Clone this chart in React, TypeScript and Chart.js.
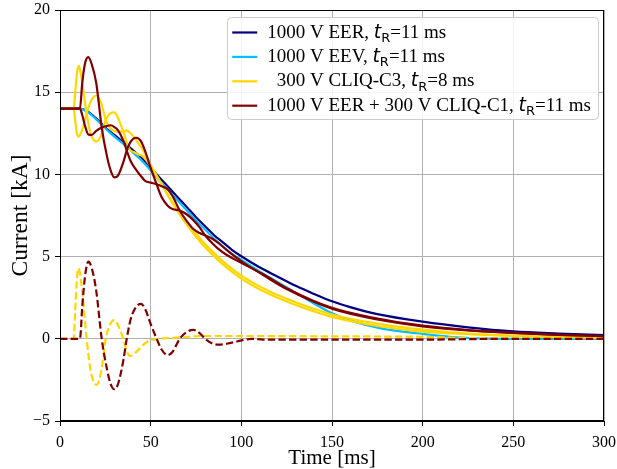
import React, { useEffect, useRef } from 'react';
import { Chart, registerables } from 'chart.js';

Chart.register(...registerables);

// ---------- data ----------
const X_TICKS = [0, 50, 100, 150, 200, 250, 300];
const Y_TICKS = [-5, 0, 5, 10, 15, 20];

// 1000 V EER
const tEER = [0, 11, 15, 20, 25, 30, 35, 40, 45, 50, 55, 60, 65, 70, 75, 80, 85, 90, 95, 100, 110, 120, 130, 140, 150, 160, 175, 200, 225, 250, 275, 300];
const iEER = [14.0, 14.0, 13.85, 13.4, 12.85, 12.4, 11.95, 11.5, 11.0, 10.4, 9.8, 9.2, 8.6, 8.0, 7.4, 6.85, 6.3, 5.85, 5.4, 5.02, 4.35, 3.78, 3.22, 2.73, 2.28, 1.93, 1.5, 1.04, 0.7, 0.45, 0.32, 0.22];

// 1000 V EEV
const tEEV = [0, 11, 15, 20, 25, 30, 35, 40, 45, 50, 55, 60, 65, 70, 75, 80, 85, 90, 95, 100, 110, 120, 130, 140, 150, 160, 175, 190, 200, 215, 230, 250, 275, 300];
const iEEV = [14.0, 14.0, 13.8, 13.35, 12.8, 12.3, 11.85, 11.35, 10.85, 10.25, 9.6, 9.0, 8.4, 7.8, 7.2, 6.65, 6.1, 5.6, 5.15, 4.8, 4.1, 3.45, 2.8, 2.15, 1.55, 1.12, 0.68, 0.42, 0.3, 0.12, 0.03, 0.0, 0.0, 0.0];

// 300 V CLIQ-C3 (two apertures + difference)
const tCLIQ = [0, 7.5, 8.5, 9.3, 10.1, 11, 12.5, 14.7, 17, 20.2, 23, 25.2, 27.5, 30, 32.5, 34.9, 36.8, 38.6, 41, 43.2, 46, 49.6, 55, 60, 67, 78, 90, 100, 110, 125, 150, 175, 200, 225, 250, 275, 300];
const iCLIQa = [14.0, 14.0, 15.15, 16.1, 16.6, 16.4, 15.4, 13.7, 12.45, 12.0, 12.45, 13.3, 13.7, 13.77, 13.3, 12.6, 11.93, 11.48, 11.35, 11.21, 11.08, 10.55, 9.6, 8.68, 7.5, 5.99, 4.69, 3.84, 3.19, 2.43, 1.48, 0.92, 0.56, 0.32, 0.19, 0.11, 0.07];
const iCLIQb = [14.0, 14.0, 13.15, 12.5, 12.3, 12.4, 12.8, 13.7, 14.45, 14.8, 14.25, 13.3, 12.85, 12.63, 12.6, 12.6, 12.68, 12.53, 12.25, 11.89, 11.43, 10.65, 9.6, 8.63, 7.4, 5.81, 4.51, 3.66, 3.01, 2.27, 1.33, 0.78, 0.44, 0.28, 0.17, 0.11, 0.07];
const dCLIQ = [0, 0, 2.0, 3.6, 4.29, 4.0, 2.6, 0, -2.0, -2.8, -1.8, 0, 0.85, 1.14, 0.7, 0, -0.75, -1.05, -0.9, -0.68, -0.35, -0.1, 0.0, 0.05, 0.09, 0.17, 0.17, 0.17, 0.17, 0.16, 0.15, 0.14, 0.12, 0.04, 0.01, 0, 0];

// 1000 V EER + 300 V CLIQ-C1 (two apertures + difference)
const tComb = [0, 11, 12.3, 13.8, 15.6, 17.5, 20, 23, 26, 28, 30, 32, 35, 36.8, 39, 42, 44.7, 47, 50, 53.3, 56, 59.4, 62, 66, 70, 73.5, 77, 80, 84, 87.3, 92, 98, 105.7, 112, 125, 150, 175, 200, 225, 250, 275, 300];
const iCombA = [14.0, 14.0, 15.6, 16.75, 17.13, 16.7, 15.55, 12.85, 11.05, 10.22, 9.82, 9.93, 10.77, 11.45, 12.0, 12.23, 12.01, 11.4, 10.4, 9.4, 8.63, 8.1, 7.9, 7.8, 7.56, 7.22, 6.78, 6.3, 5.81, 5.47, 5.1, 4.73, 4.3, 3.88, 3.03, 1.83, 1.18, 0.76, 0.51, 0.36, 0.24, 0.16];
const iCombB = [14.0, 14.0, 13.6, 12.95, 12.43, 12.4, 12.65, 12.85, 12.95, 12.99, 12.88, 12.68, 12.04, 11.45, 10.8, 10.28, 9.89, 9.6, 9.5, 9.4, 9.28, 9.1, 8.7, 7.8, 7.14, 6.68, 6.43, 6.3, 6.09, 5.83, 5.4, 4.88, 4.3, 3.93, 3.08, 1.88, 1.23, 0.8, 0.53, 0.36, 0.24, 0.16];
const dComb = [0, 0, 2.0, 3.8, 4.69, 4.3, 2.9, 0, -1.9, -2.77, -3.07, -2.75, -1.27, 0, 1.2, 1.95, 2.12, 1.8, 0.9, 0, -0.65, -0.99, -0.8, 0, 0.42, 0.54, 0.35, 0, -0.28, -0.36, -0.3, -0.15, 0, -0.05, -0.05, -0.05, -0.05, -0.05, -0.02, 0, 0, 0];

const LEGEND_PRE = ['1000 V EER, ', '1000 V EEV, ', '  300 V CLIQ-C3, ', '1000 V EER + 300 V CLIQ-C1, '];
const LEGEND_SYM = 't';
const LEGEND_SUB = 'R';
const LEGEND_POST = ['=11 ms', '=11 ms', '=8 ms', '=11 ms'];

// ---------- styles ----------
const NAVY = '#000080';
const SKY = '#00BFFF';
const GOLD = '#FFD700';
const MAROON = '#800000';
const LEGEND_COLORS = [NAVY, SKY, GOLD, MAROON];
const SERIF = '"Liberation Serif", "Times New Roman", serif';
const LW = 2.2;

function pts(t: number[], v: number[]) {
  return t.map((x, i) => ({ x, y: v[i] }));
}

const framePlugin = {
  id: 'frame',
  afterDatasetsDraw(chart: any) {
    const { ctx, chartArea } = chart;
    ctx.save();
    ctx.strokeStyle = '#000';
    ctx.lineWidth = 1;
    const l = Math.round(chartArea.left) + 0.5;
    const r = Math.round(chartArea.right) - 0.5;
    const t = Math.round(chartArea.top) + 0.5;
    const b = Math.round(chartArea.bottom) - 0.5;
    ctx.strokeRect(l, t, r - l, b - t);
    ctx.restore();
  },
};

const legendPlugin = {
  id: 'mplLegend',
  afterDraw(chart: any) {
    const { ctx, chartArea } = chart;
    ctx.save();
    const serif = '19px ' + SERIF;
    const ital = 'oblique 19px "DejaVu Sans"';
    const sub = '13px "DejaVu Sans"';
    const widths = LEGEND_PRE.map((pre, i) => {
      ctx.font = serif;
      let w = ctx.measureText(pre).width + ctx.measureText(LEGEND_POST[i]).width;
      ctx.font = ital;
      w += ctx.measureText(LEGEND_SYM).width;
      ctx.font = sub;
      w += ctx.measureText(LEGEND_SUB).width;
      return w;
    });
    const textW = Math.max(...widths);
    const right = chartArea.right - 6;
    const w = 40 + textW + 7;
    const x0 = right - w;
    const y0 = chartArea.top + 7;
    const h = 102;
    ctx.beginPath();
    ctx.roundRect(Math.round(x0) + 0.5, Math.round(y0) + 0.5, Math.round(w), h, 4);
    ctx.fillStyle = 'rgba(255,255,255,0.85)';
    ctx.fill();
    ctx.strokeStyle = '#cccccc';
    ctx.lineWidth = 1;
    ctx.stroke();
    LEGEND_PRE.forEach((pre, i) => {
      const base = y0 + 20.5 + i * 24.4;
      const mid = base - 5;
      ctx.strokeStyle = LEGEND_COLORS[i];
      ctx.lineWidth = LW;
      ctx.beginPath();
      ctx.moveTo(x0 + 5, mid);
      ctx.lineTo(x0 + 30, mid);
      ctx.stroke();
      let x = x0 + 40;
      ctx.fillStyle = '#000';
      ctx.textBaseline = 'alphabetic';
      ctx.textAlign = 'left';
      ctx.font = serif;
      ctx.fillText(pre, x, base);
      x += ctx.measureText(pre).width;
      ctx.font = ital;
      ctx.fillText(LEGEND_SYM, x, base);
      x += ctx.measureText(LEGEND_SYM).width;
      ctx.font = sub;
      ctx.fillText(LEGEND_SUB, x, base + 4.5);
      x += ctx.measureText(LEGEND_SUB).width;
      ctx.font = serif;
      ctx.fillText(LEGEND_POST[i], x, base);
    });
    ctx.restore();
  },
};

export default function App() {
  const ref = useRef<HTMLCanvasElement>(null);
  useEffect(() => {
    const canvas = ref.current;
    if (!canvas) return;
    const base = (data: any, color: string, order: number, dashed = false) => ({
      data,
      borderColor: color,
      backgroundColor: color,
      borderWidth: LW,
      borderDash: dashed ? [7.4, 3.2] : [],
      pointRadius: 0,
      fill: false,
      cubicInterpolationMode: 'monotone',
      order,
    });
    const datasets = [
      base(pts(tEER, iEER), NAVY, 9),
      base(pts(tEEV, iEEV), SKY, 8),
      base(pts(tCLIQ, iCLIQa), GOLD, 7),
      base(pts(tCLIQ, iCLIQb), GOLD, 6),
      base(pts(tCLIQ, dCLIQ), GOLD, 5, true),
      base(pts(tComb, iCombA), MAROON, 4),
      base(pts(tComb, iCombB), MAROON, 3),
      base(pts(tComb, dComb), MAROON, 2, true),
    ];
    const chart = new Chart(canvas, {
      type: 'line',
      data: { datasets: datasets as any },
      options: {
        animation: false,
        responsive: false,
        maintainAspectRatio: false,
        events: [],
        layout: { padding: { left: 0, right: 13, top: 10, bottom: 0 } },
        plugins: { legend: { display: false }, tooltip: { enabled: false } },
        scales: {
          x: {
            type: 'linear',
            min: 0,
            max: 300,
            afterFit: (s: any) => { s.height = 48; s.paddingLeft = 0; s.paddingRight = 0; },
            afterBuildTicks: (s: any) => { s.ticks = X_TICKS.map((v) => ({ value: v })); },
            ticks: { color: '#000', font: { family: SERIF, size: 16 }, padding: 7, maxRotation: 0, autoSkip: false },
            grid: { color: '#b0b0b0', lineWidth: 1, tickColor: '#000', tickLength: 5 },
            border: { color: '#000', width: 1 },
            title: { display: true, text: 'Time [ms]', color: '#000', font: { family: SERIF, size: 21, lineHeight: 1.0 }, padding: { top: 0, bottom: 0 } },
          },
          y: {
            type: 'linear',
            min: -5,
            max: 20,
            afterFit: (s: any) => { s.width = 60; s.paddingTop = 0; s.paddingBottom = 0; },
            afterBuildTicks: (s: any) => { s.ticks = Y_TICKS.map((v) => ({ value: v })); },
            ticks: {
              color: '#000',
              font: { family: SERIF, size: 16 },
              padding: 5,
              callback: (v: any) => String(v).replace('-', '\u2212'),
            },
            grid: { color: '#b0b0b0', lineWidth: 1, tickColor: '#000', tickLength: 5 },
            border: { color: '#000', width: 1 },
            title: { display: true, text: 'Current [kA]', color: '#000', font: { family: SERIF, size: 23.5 }, padding: { top: 7, bottom: 0 } },
          },
        },
      },
      plugins: [framePlugin, legendPlugin],
    });
    return () => chart.destroy();
  }, []);
  return (
    <div style={{ position: 'fixed', left: 0, top: 0, width: 617, height: 469, background: '#fff' }}>
      <canvas ref={ref} width={617} height={469} style={{ display: 'block', width: 617, height: 469 }} />
    </div>
  );
}
